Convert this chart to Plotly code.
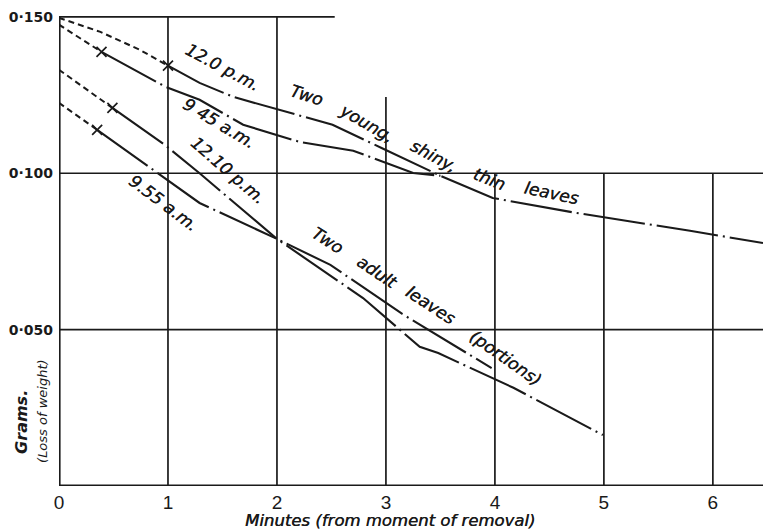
import plotly.graph_objects as go

# Loss of weight (grams) of detached leaves against minutes after removal.
# In every series the points before *_FIRST are the back-extrapolation to t = 0
# (drawn dashed); from *_FIRST on they are the observed readings, the first of
# which is marked with a cross.
S1200_X = [0.0, 0.38, 0.74, 1.0, 1.29, 1.60, 2.51, 2.96, 3.50, 3.98, 4.75, 5.79, 6.46]
S1200_Y = [0.1497, 0.1452, 0.1395, 0.1344, 0.1289, 0.1244, 0.1155, 0.1081, 0.0992,
           0.0921, 0.0873, 0.0816, 0.0777]
S1200_FIRST = 3

S0945_X = [0.0, 0.39, 0.98, 1.29, 1.69, 2.21, 2.70, 3.25, 3.50]
S0945_Y = [0.1475, 0.1388, 0.1276, 0.1235, 0.1155, 0.1100, 0.1072, 0.1001, 0.0992]
S0945_FIRST = 1

S1210_X = [0.0, 0.49, 0.97, 1.29, 1.60, 2.0, 2.79, 3.31, 3.48, 4.17, 4.99]
S1210_Y = [0.1331, 0.1209, 0.1091, 0.1000, 0.0908, 0.0790, 0.0601, 0.0445, 0.0425,
           0.0314, 0.0163]
S1210_FIRST = 1

S0955_X = [0.0, 0.35, 0.99, 1.29, 2.0, 2.49, 3.15, 3.97]
S0955_Y = [0.1225, 0.1139, 0.0979, 0.0905, 0.0790, 0.0707, 0.0550, 0.0377]
S0955_FIRST = 1

SERIES = [
    (S1200_X, S1200_Y, S1200_FIRST),
    (S0945_X, S0945_Y, S0945_FIRST),
    (S1210_X, S1210_Y, S1210_FIRST),
    (S0955_X, S0955_Y, S0955_FIRST),
]

# Curve labels: text, x, y, angle
CURVE_LABELS = [
    ("12.0 p.m.", 1.50, 0.1340, 28),
    ("9 45 a.m.", 1.47, 0.1162, 31),
    ("12.10 p.m.", 1.55, 0.1010, 41),
    ("9.55 a.m.", 0.96, 0.0905, 37),
]
YOUNG_WORDS = [
    ("Two", 2.27, 0.1250, 18),
    ("young,", 2.82, 0.1160, 30),
    ("shiny,", 3.44, 0.1055, 28),
    ("thin", 3.95, 0.0982, 22),
    ("leaves", 4.52, 0.0937, 12),
]
ADULT_WORDS = [
    ("Two", 2.46, 0.0786, 33),
    ("adult", 2.92, 0.0684, 34),
    ("leaves", 3.41, 0.0578, 33),
    ("(portions)", 4.10, 0.0408, 35),
]

X_TICKS = [0, 1, 2, 3, 4, 5, 6]
Y_TICKS = [0.05, 0.10, 0.15]
Y_TICK_TEXT = ["0·050", "0·100", "0·150"]
X_TITLE = "Minutes (from moment of removal)"
Y_TITLE = "Grams."
Y_SUBTITLE = "(Loss of weight)"

X_MAX = 6.46
Y_MAX = 0.1554

INK = "#1a1a1a"
# a faint same-colour shadow gives the lettering a slightly heavier stroke
HEAVY = "0.4px 0px 0px #1a1a1a"
LABEL_FONT = dict(family="DejaVu Sans", size=17, color=INK, style="italic", shadow=HEAVY)

fig = go.Figure()

for xs, ys, first in SERIES:
    # extrapolated part
    fig.add_trace(go.Scatter(
        x=xs[:first + 1], y=ys[:first + 1], mode="lines",
        line=dict(color=INK, width=2, dash="6px,4px"),
        hoverinfo="skip", showlegend=False))
    # observed part
    fig.add_trace(go.Scatter(
        x=xs[first:], y=ys[first:], mode="lines",
        line=dict(color=INK, width=2.1, dash="62px,5px,2px,5px"),
        hoverinfo="skip", showlegend=False))
    # first reading
    fig.add_trace(go.Scatter(
        x=[xs[first]], y=[ys[first]], mode="markers",
        marker=dict(symbol="x-thin", size=10, line=dict(color=INK, width=1.7)),
        hoverinfo="skip", showlegend=False))

# ruled grid (partial, as on the original sheet)
grid_h = [(0.150, 0, 2.53), (0.100, 0, X_MAX), (0.050, 0, X_MAX)]
grid_v = [(1, 0, 0.150), (2, 0, 0.150), (3, 0, 0.1244),
          (4, 0, 0.100), (5, 0, 0.100), (6, 0, 0.100)]
shapes = []
for yv, x0, x1 in grid_h:
    shapes.append(dict(type="line", xref="x", yref="y", x0=x0, x1=x1, y0=yv, y1=yv,
                       line=dict(color=INK, width=1.7), layer="below"))
for xv, y0, y1 in grid_v:
    shapes.append(dict(type="line", xref="x", yref="y", x0=xv, x1=xv, y0=y0, y1=y1,
                       line=dict(color=INK, width=1.7), layer="below"))
# heavy axes
shapes.append(dict(type="line", xref="x", yref="y", x0=0, x1=0, y0=0, y1=0.150,
                   line=dict(color=INK, width=3.2), layer="below"))
shapes.append(dict(type="line", xref="x", yref="y", x0=0, x1=X_MAX, y0=0, y1=0,
                   line=dict(color=INK, width=2.8), layer="below"))

annotations = []
for text, x, y, ang in CURVE_LABELS + YOUNG_WORDS + ADULT_WORDS:
    annotations.append(dict(text=text, x=x, y=y, xref="x", yref="y", showarrow=False,
                            textangle=ang, font=LABEL_FONT,
                            xanchor="center", yanchor="middle"))

annotations.append(dict(text=X_TITLE, xref="paper", yref="paper", x=0.47, y=0,
                        yshift=-34, showarrow=False, xanchor="center", yanchor="middle",
                        font=dict(family="DejaVu Sans", size=16.5, color=INK,
                                  style="italic", shadow=HEAVY)))
annotations.append(dict(text=Y_TITLE, xref="paper", yref="y", x=0, y=0.0205,
                        xshift=-37, showarrow=False, textangle=-90,
                        xanchor="center", yanchor="middle",
                        font=dict(family="DejaVu Sans", size=16, color=INK,
                                  style="italic", weight="bold")))
annotations.append(dict(text=Y_SUBTITLE, xref="paper", yref="y", x=0, y=0.0240,
                        xshift=-16, showarrow=False, textangle=-90,
                        xanchor="center", yanchor="middle",
                        font=dict(family="DejaVu Sans", size=13, color=INK,
                                  style="italic")))

fig.update_layout(
    width=763, height=531,
    margin=dict(l=59, r=0, t=0, b=45),
    paper_bgcolor="white", plot_bgcolor="white",
    shapes=shapes, annotations=annotations,
    xaxis=dict(range=[0, X_MAX], showgrid=False, zeroline=False, showline=False,
               tickvals=X_TICKS, ticktext=[str(v) for v in X_TICKS],
               ticks="", ticklabelstandoff=3,
               tickfont=dict(family="Liberation Sans", size=19, color=INK)),
    yaxis=dict(range=[0, Y_MAX], showgrid=False, zeroline=False, showline=False,
               tickvals=Y_TICKS, ticktext=Y_TICK_TEXT, ticks="",
               ticklabelstandoff=5,
               tickfont=dict(family="DejaVu Sans", size=14, color=INK, weight="bold")),
)

fig.write_html("out.html")
